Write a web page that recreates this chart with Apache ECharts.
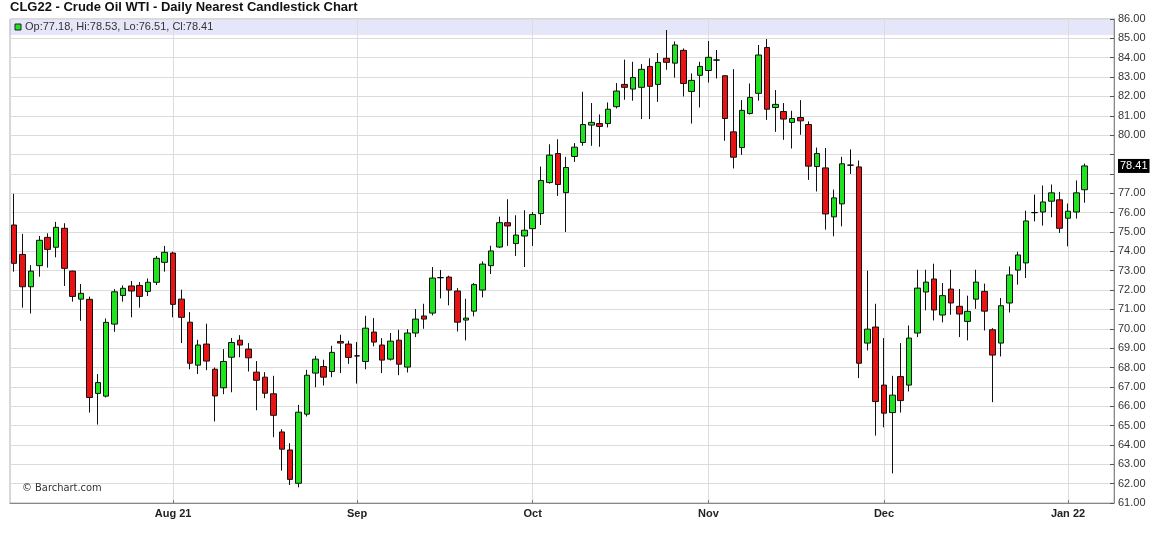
<!DOCTYPE html>
<html>
<head>
<meta charset="utf-8">
<script src="https://cdn.jsdelivr.net/npm/echarts@6/dist/echarts.min.js"></script>
<style>
html,body{margin:0;padding:0;background:#fff;}
#chart{width:1156px;height:542px;}
</style>
</head>
<body>
<div id="chart"></div>
<script>
// ---------- data ----------
const titleText = 'CLG22 - Crude Oil WTI - Daily Nearest Candlestick Chart';
const startDate = '2021-07-06';
const holidays = ['2021-09-06', '2021-11-25', '2021-12-24'];
const padDays = 3; // empty trading days to the right of the last bar
const monthNames = ['Jan','Feb','Mar','Apr','May','Jun','Jul','Aug','Sep','Oct','Nov','Dec'];

const openP = [
75.36,73.84,72.17,73.26,74.72,74.21,75.19,72.98,71.53,71.52,
66.66,66.52,70.24,71.72,72.21,72.24,71.93,72.40,73.43,73.91,
71.53,70.34,68.12,69.21,67.91,66.95,68.53,69.41,68.95,67.76,
67.50,66.64,64.67,63.74,62.02,65.59,67.71,68.05,67.79,69.34,
69.21,68.60,68.31,69.83,69.16,68.43,69.41,68.02,69.78,70.66,
70.81,72.64,72.67,71.95,70.45,70.91,72.00,73.26,74.22,75.48,
74.40,74.79,75.17,75.95,77.55,79.05,77.03,78.90,79.62,80.52,
80.60,80.60,81.47,82.62,82.38,82.47,83.55,82.62,83.97,83.72,
84.38,82.26,83.09,83.34,83.88,83.07,80.17,79.36,81.12,82.16,
84.53,81.43,81.22,80.66,80.91,80.55,78.38,78.31,75.78,76.45,
78.45,78.36,69.26,70.09,67.09,65.67,67.53,67.09,69.78,71.90,
72.57,70.71,72.05,71.16,70.38,71.53,71.93,69.95,69.26,71.33,
73.03,73.40,76.00,76.03,76.59,76.66,75.71,76.03,77.18];
const highP = [
76.97,74.90,73.29,74.79,74.93,75.52,75.45,73.00,72.31,71.66,
67.66,70.53,72.05,72.24,72.47,72.41,72.60,73.76,74.28,73.98,
72.02,70.86,69.43,70.26,68.00,68.95,69.52,69.67,69.26,68.33,
67.76,67.57,64.81,64.09,66.07,67.88,68.60,68.40,69.12,69.69,
69.38,69.31,70.67,70.55,69.52,69.78,69.95,69.98,71.02,71.29,
73.19,73.03,72.74,72.10,71.55,72.36,73.48,74.29,75.79,76.69,
75.86,76.12,76.03,78.38,79.53,79.79,78.88,79.59,82.24,81.66,
81.07,81.69,82.69,83.90,83.79,83.67,83.97,84.24,85.43,84.84,
84.48,83.19,83.79,84.86,84.40,83.07,83.41,81.81,82.67,84.66,
84.97,82.33,81.66,81.26,81.81,80.71,79.36,79.34,77.19,78.88,
79.26,78.69,73.00,71.29,69.52,67.57,69.26,70.17,73.05,73.05,
73.36,72.36,73.05,72.05,71.71,73.05,72.33,70.03,71.59,73.22,
73.98,76.10,76.93,77.40,77.45,77.07,76.47,77.66,78.53];
const lowP = [
72.95,71.09,70.79,72.69,73.16,73.69,72.21,71.40,70.41,65.67,
65.05,66.45,69.84,71.40,70.59,71.09,71.69,72.26,72.95,70.59,
69.26,67.91,67.66,67.86,65.21,66.62,66.72,68.53,67.79,65.79,
66.41,64.40,62.67,61.93,61.81,65.47,66.98,67.07,67.50,67.71,
68.19,67.17,67.91,69.09,67.71,68.36,67.60,67.74,69.57,70.00,
70.69,71.57,71.21,69.86,69.40,70.64,71.62,72.83,74.17,74.28,
73.76,73.19,74.28,75.36,77.50,76.86,75.00,78.62,79.45,79.45,
79.40,80.40,81.38,81.83,81.78,80.83,80.83,81.72,83.38,82.97,
82.00,80.60,81.43,82.72,82.93,79.71,78.28,78.98,81.07,81.78,
80.79,80.17,79.76,79.31,80.02,77.69,77.09,75.12,74.78,75.29,
78.00,67.45,68.88,64.48,64.91,62.53,65.67,66.76,69.57,70.95,
70.43,70.33,70.72,69.57,69.40,71.03,69.91,66.21,68.57,70.84,
72.28,72.62,75.55,75.33,75.76,74.95,74.26,75.69,76.51];
const closeP = [
73.38,72.17,72.98,74.57,74.10,75.24,73.12,71.67,71.83,66.45,
67.22,70.33,71.91,72.09,71.95,71.67,72.40,73.64,73.95,71.26,
70.59,68.22,69.16,68.33,66.53,68.31,69.29,69.16,68.50,67.34,
66.67,65.53,63.78,62.22,65.69,67.60,68.43,67.50,68.78,69.26,
68.52,68.60,70.03,69.31,68.38,69.36,68.17,69.78,70.50,70.50,
72.62,72.64,72.00,70.34,70.55,72.28,73.34,74.02,75.48,75.31,
74.84,75.09,75.90,77.66,78.97,77.45,78.33,79.38,80.55,80.66,
80.45,81.34,82.28,82.47,82.98,83.40,82.52,83.76,83.76,84.66,
82.67,82.83,83.55,84.02,83.88,80.86,78.86,81.28,81.95,84.14,
81.34,81.59,80.83,80.86,80.74,78.40,79.05,75.93,76.76,78.52,
78.45,68.22,69.98,66.24,65.64,66.57,66.29,69.52,72.10,72.41,
70.97,71.71,71.33,70.76,70.90,72.41,70.91,68.64,71.19,72.78,
73.81,75.57,76.00,76.55,77.02,75.19,76.07,77.02,78.41];

// ---------- build ----------
function tradingDays(start, n, hol) {
  const out = [];
  const d = new Date(start + 'T00:00:00Z');
  while (out.length < n) {
    const dow = d.getUTCDay();
    const s = d.toISOString().slice(0, 10);
    if (dow !== 0 && dow !== 6 && hol.indexOf(s) < 0) out.push(s);
    d.setUTCDate(d.getUTCDate() + 1);
  }
  return out;
}
const categories = tradingDays(startDate, closeP.length + padDays, holidays);
function isMonthStart(i) {
  return i > 0 && categories[i].slice(0, 7) !== categories[i - 1].slice(0, 7);
}
const firstMonthIdx = categories.findIndex((c, i) => isMonthStart(i));

const UP = '#1fe31f', DOWN = '#e81414';
const candleData = openP.map((o, i) => {
  const item = { value: [o, closeP[i], lowP[i], highP[i]] };
  if (o === closeP[i]) item.itemStyle = { color: '#000', borderColor: '#000' };
  return item;
});
const last = closeP.length - 1;
const lastClose = closeP[last];
const ohlcText = 'Op:' + openP[last].toFixed(2) + ', Hi:' + highP[last].toFixed(2) +
  ', Lo:' + lowP[last].toFixed(2) + ', Cl:' + closeP[last].toFixed(2);

const chart = echarts.init(document.getElementById('chart'), null, { renderer: 'canvas' });
const narrow = "'Liberation Sans Narrow', 'DejaVu Sans Condensed', 'Liberation Sans', sans-serif";
const sans = "'Liberation Sans', Arial, sans-serif";

chart.setOption({
  animation: false,
  backgroundColor: '#fff',
  title: {
    text: titleText, left: 10, top: 1, padding: 0,
    textStyle: { fontFamily: sans, fontSize: 13, fontWeight: 'bold', color: '#111' }
  },
  grid: { left: 10, right: 42, top: 19, bottom: 39, show: true, borderColor: '#b0b0b0', borderWidth: 1 },
  xAxis: {
    type: 'category',
    data: categories,
    boundaryGap: true,
    axisLine: { show: true, lineStyle: { color: '#888' } },
    axisTick: { show: true, inside: true, length: 3, alignWithLabel: true, interval: (i) => isMonthStart(i), lineStyle: { color: '#777' } },
    axisLabel: {
      interval: (i) => isMonthStart(i),
      margin: 5,
      fontFamily: sans, fontSize: 11, fontWeight: 'bold', color: '#222',
      formatter: (v, i) => {
        const m = +v.slice(5, 7);
        let s = monthNames[m - 1];
        if (i === firstMonthIdx || m === 1) s += ' ' + v.slice(2, 4);
        return s;
      }
    },
    splitLine: { show: true, alignWithLabel: true, interval: (i) => isMonthStart(i), lineStyle: { color: '#dcdcdc' } }
  },
  yAxis: {
    type: 'value', position: 'right',
    min: 61, max: 86, interval: 1, scale: true,
    axisLine: { show: true, lineStyle: { color: '#888' } },
    axisTick: { show: true, inside: true, length: 4, lineStyle: { color: '#555' } },
    axisLabel: {
      margin: 4, fontFamily: sans, fontSize: 11, color: '#333',
      formatter: (v) => Math.abs(v - lastClose) < 0.6 ? '' : v.toFixed(2)
    },
    splitLine: { show: true, lineStyle: { color: '#dcdcdc' } }
  },
  series: [{
    type: 'candlestick',
    data: candleData,
    barWidth: 6,
    itemStyle: { color: UP, color0: DOWN, borderColor: '#111', borderColor0: '#111', borderWidth: 1 },
    markLine: {
      silent: true, symbol: 'none',
      lineStyle: { color: 'rgba(0,0,0,0)', width: 1, type: 'solid' },
      label: {
        show: true, position: 'end', distance: 4,
        formatter: () => lastClose.toFixed(2),
        backgroundColor: '#000', color: '#fff', fontFamily: sans, fontSize: 11, padding: [2, 2, 1, 2]
      },
      emphasis: { disabled: true },
      data: [{ yAxis: lastClose }]
    }
  }],
  graphic: [
    { type: 'rect', z: -1, shape: { x: 10, y: 19, width: 1104, height: 16 }, style: { fill: '#e6e6fa' } },
    { type: 'rect', z: 10, shape: { x: 15, y: 24, width: 6, height: 6 }, style: { fill: UP, stroke: '#222', lineWidth: 1 } },
    { type: 'text', z: 10, x: 25, y: 27, style: { text: ohlcText, fontFamily: sans, fontSize: 11, fill: '#333', verticalAlign: 'middle' } },
    { type: 'text', z: 10, x: 22, y: 488, style: { text: '\u00a9 Barchart.com', fontFamily: narrow, fontSize: 11, fill: '#333', verticalAlign: 'middle' } }
  ]
});
</script>
</body>
</html>
